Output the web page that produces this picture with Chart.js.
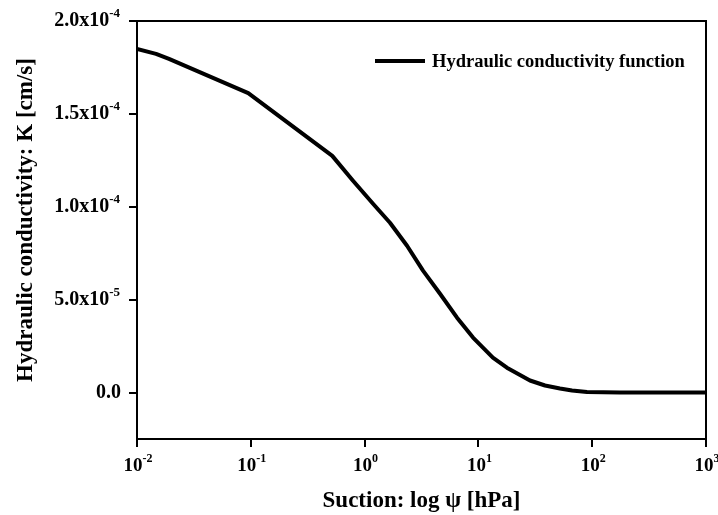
<!DOCTYPE html>
<html>
<head>
<meta charset="utf-8">
<script src="https://cdn.jsdelivr.net/npm/chart.js@4.4.1/dist/chart.umd.min.js"></script>
<style>
  html, body { margin: 0; padding: 0; background: #fff; }
</style>
</head>
<body>
<canvas id="kChart" width="718" height="515"></canvas>
<script>
const suction = [0.01, 0.0147, 0.0191, 0.095, 0.52, 0.791, 1.186, 1.671, 2.36, 3.26, 4.60, 6.49, 8.97, 13.4, 17.8, 28.4, 38.5, 52.1, 66.5, 90, 175, 1000];
const conductivity = [1.849e-4, 1.823e-4, 1.796e-4, 1.612e-4, 1.274e-4, 1.140e-4, 1.016e-4, 9.14e-5, 7.90e-5, 6.56e-5, 5.32e-5, 4.03e-5, 2.96e-5, 1.88e-5, 1.34e-5, 6.5e-6, 3.8e-6, 2.2e-6, 1.1e-6, 3e-7, 0, 0];

const xTickValues = [0.01, 0.1, 1, 10, 100, 1000];
const xTickBase = ['10', '10', '10', '10', '10', '10'];
const xTickExp = ['-2', '-1', '0', '1', '2', '3'];

const yTickValues = [0, 5e-5, 1e-4, 1.5e-4, 2e-4];
const yTickBase = ['0.0', '5.0x10', '1.0x10', '1.5x10', '2.0x10'];
const yTickExp = ['', '-5', '-4', '-4', '-4'];

const yTitle = 'Hydraulic conductivity: K [cm/s]';
const xTitle = 'Suction: log ψ [hPa]';

const serif = "'Liberation Serif', 'Times New Roman', serif";

// tick labels with superscripts, y title, the plot frame and the legend
const paperPlugin = {
  id: 'paper',
  afterDraw(chart) {
    const ctx = chart.ctx;
    const area = chart.chartArea;
    const xs = chart.scales.x, ys = chart.scales.y;
    ctx.save();
    ctx.fillStyle = '#000';
    ctx.strokeStyle = '#000';

    // top and right frame
    ctx.lineWidth = 2;
    ctx.beginPath();
    ctx.moveTo(area.left, area.top);
    ctx.lineTo(area.right, area.top);
    ctx.lineTo(area.right, area.bottom);
    ctx.stroke();

    ctx.textBaseline = 'middle';

    // y tick labels
    yTickValues.forEach((v, i) => {
      const y = ys.getPixelForValue(v);
      ctx.font = 'bold 13px ' + serif;
      const ew = ctx.measureText(yTickExp[i]).width;
      const right = yTickExp[i] ? 120 : 121;
      ctx.textAlign = 'right';
      ctx.fillText(yTickExp[i], right, y - 7);
      ctx.font = 'bold 20px ' + serif;
      ctx.fillText(yTickBase[i], right - ew, y);
    });

    // x tick labels
    xTickValues.forEach((v, i) => {
      const x = xs.getPixelForValue(v);
      ctx.font = 'bold 19px ' + serif;
      const bw = ctx.measureText(xTickBase[i]).width;
      ctx.font = 'bold 12px ' + serif;
      const ew = ctx.measureText(xTickExp[i]).width;
      const start = x - (bw + ew) / 2 + 1;
      ctx.textAlign = 'left';
      ctx.font = 'bold 19px ' + serif;
      ctx.fillText(xTickBase[i], start, 466);
      ctx.font = 'bold 12px ' + serif;
      ctx.fillText(xTickExp[i], start + bw, 459);
    });

    // y axis title
    ctx.save();
    ctx.translate(26, 220);
    ctx.rotate(-Math.PI / 2);
    ctx.textAlign = 'center';
    ctx.font = 'bold 23px ' + serif;
    ctx.fillText(yTitle, 0, 0);
    ctx.restore();

    // legend
    const ds = chart.data.datasets[0];
    ctx.lineWidth = ds.borderWidth;
    ctx.beginPath();
    ctx.moveTo(375, 61);
    ctx.lineTo(425, 61);
    ctx.stroke();
    ctx.font = 'bold 18.5px ' + serif;
    ctx.textAlign = 'left';
    ctx.fillText(ds.label, 432, 62);
    ctx.restore();
  }
};

const ctx = document.getElementById('kChart');
const kChart = new Chart(ctx, {
  type: 'line',
  data: {
    datasets: [{
      label: 'Hydraulic conductivity function',
      data: suction.map((s, i) => ({ x: s, y: conductivity[i] })),
      borderColor: '#000',
      backgroundColor: '#000',
      borderWidth: 4,
      pointRadius: 0,
      tension: 0,
      borderJoinStyle: 'round'
    }]
  },
  options: {
    responsive: false,
    animation: false,
    layout: { padding: { top: 21, right: 12, left: 0, bottom: 0 } },
    plugins: {
      legend: { display: false },
      tooltip: { enabled: false }
    },
    scales: {
      x: {
        type: 'logarithmic',
        min: 0.01,
        max: 1000,
        afterBuildTicks: s => { s.ticks = xTickValues.map(v => ({ value: v })); },
        afterFit: s => { s.height = 76; },
        ticks: { display: false },
        grid: { drawOnChartArea: false, drawTicks: true, tickLength: 8, color: '#000', lineWidth: 2 },
        border: { color: '#000', width: 2 },
        title: {
          display: true,
          text: xTitle,
          color: '#000',
          font: { family: serif, size: 23, weight: 'bold' },
          padding: { top: 0, bottom: 0 }
        }
      },
      y: {
        type: 'linear',
        min: -2.5e-5,
        max: 2e-4,
        afterBuildTicks: s => { s.ticks = yTickValues.map(v => ({ value: v })); },
        afterFit: s => { s.width = 137; },
        ticks: { display: false },
        grid: { drawOnChartArea: false, drawTicks: true, tickLength: 8, color: '#000', lineWidth: 2 },
        border: { color: '#000', width: 2 },
        title: { display: false }
      }
    }
  },
  plugins: [paperPlugin]
});
</script>
</body>
</html>
